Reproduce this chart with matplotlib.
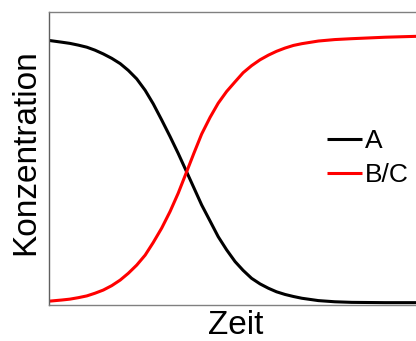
import matplotlib.pyplot as plt

# Values (time in arbitrary units, concentration 0..1)
zeit = [0.0, 0.35, 0.57, 0.80, 1.03, 1.25, 1.48, 1.71, 1.94, 2.16,
        2.39, 2.62, 2.84, 3.07, 3.30, 3.52, 3.75, 3.95, 4.16, 4.39,
        4.61, 4.84, 5.07, 5.29, 5.52, 5.75, 5.98, 6.20, 6.43, 6.66,
        6.89, 7.34, 7.79, 8.25, 9.16, 10.0]
konz_a = [0.902, 0.896, 0.892, 0.886, 0.879, 0.869, 0.856, 0.841, 0.823, 0.800,
          0.771, 0.732, 0.686, 0.631, 0.574, 0.517, 0.454, 0.399, 0.341, 0.286,
          0.233, 0.188, 0.148, 0.118, 0.091, 0.072, 0.057, 0.045, 0.036, 0.029,
          0.023, 0.015, 0.011, 0.009, 0.008, 0.008]
konz_bc = [0.013, 0.017, 0.020, 0.025, 0.031, 0.040, 0.051, 0.066, 0.085, 0.108,
           0.136, 0.170, 0.213, 0.262, 0.319, 0.381, 0.454, 0.518, 0.583, 0.640,
           0.688, 0.728, 0.761, 0.792, 0.816, 0.836, 0.852, 0.865, 0.876, 0.885,
           0.891, 0.900, 0.905, 0.908, 0.913, 0.916]

plt.rcParams['font.family'] = ['Liberation Sans', 'DejaVu Sans']

W, H = 416, 341
fig = plt.figure(figsize=(W / 100, H / 100), dpi=100)
ax = fig.add_axes([49 / W, 1 - 305 / H, 1 - 49 / W, (305 - 11.7) / H])

ax.plot(zeit, konz_a, color='black', lw=2.2, label='A', solid_joinstyle='round')
ax.plot(zeit, konz_bc, color='#ff0000', lw=2.2, label='B/C', solid_joinstyle='round')

ax.set_xlim(0, 10)
ax.set_ylim(0, 1)
ax.set_xticks([])
ax.set_yticks([])
for side in ['left', 'top', 'bottom']:
    ax.spines[side].set_color('#808080')
    ax.spines[side].set_linewidth(1.0)
ax.spines['left'].set_color('#606060')
ax.spines['right'].set_visible(False)

fig.text(236 / W, 1 - 325 / H, 'Zeit', fontsize=24, ha='center', va='center')
fig.text(26 / W, 1 - 152 / H, 'Konzentration', fontsize=24, rotation=90,
         ha='center', va='center')

leg = ax.legend(loc='center left',
                bbox_to_anchor=((326.5 - 49) / (W - 49), (305 - 158.3) / (305 - 11.7)),
                frameon=False, fontsize=19, handlelength=1.33, handletextpad=0.13,
                labelspacing=0.39, borderaxespad=0, borderpad=0)
for line in leg.get_lines():
    line.set_solid_capstyle('butt')

fig.savefig('out.png', dpi=100)
